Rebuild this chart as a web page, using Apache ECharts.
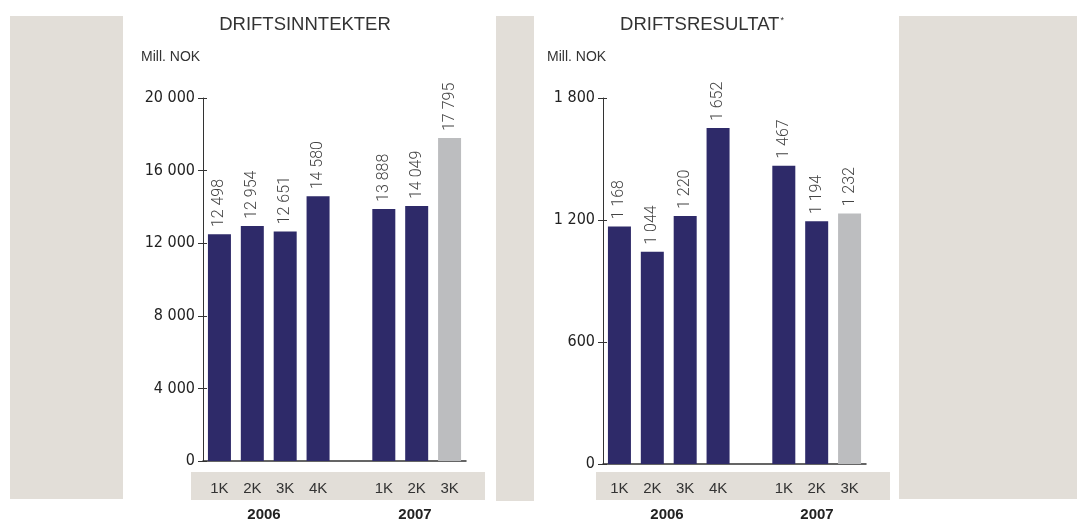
<!DOCTYPE html>
<html>
<head>
<meta charset="utf-8">
<script src="https://cdn.jsdelivr.net/npm/echarts@6/dist/echarts.min.js"></script>
<style>
  html, body { margin: 0; padding: 0; background: #fff; }
  #chart { width: 1077px; height: 523px; }
</style>
</head>
<body>
<div id="chart"></div>
<script>
// kvartaler (tom plass mellom årene)
var quarters = ['1K', '2K', '3K', '4K', '', '1K', '2K', '3K'];
var years = ['2006', '2007'];
// driftsinntekter, mill. NOK
var inntekter = [12498, 12954, 12651, 14580, '-', 13888, 14049, 17795];
// driftsresultat, mill. NOK
var resultat = [1168, 1044, 1220, 1652, '-', 1467, 1194, 1232];
var lastIndex = 7;

var navy = '#2e2a69';
var grey = '#bcbdbf';
var beige = '#e2ded8';
var numFont = "'Liberation Sans Narrow', 'DejaVu Sans Condensed', sans-serif";
var gridWidth = 263;

function fmt(v) {
    return String(v).replace(/\B(?=(\d{3})+(?!\d))/g, ' ');
}

function barData(arr) {
    var out = [];
    for (var i = 0; i < arr.length; i++) {
        out.push({
            value: arr[i],
            itemStyle: { color: i === lastIndex ? grey : navy }
        });
    }
    return out;
}

function yAxes(grid, max, step) {
    var base = {
        gridIndex: grid,
        type: 'value',
        min: 0,
        max: max,
        interval: step,
        splitLine: { show: false }
    };
    return [
        Object.assign({}, base, {
            position: 'left',
            axisLine: { show: true, lineStyle: { color: '#333', width: 1 } },
            axisTick: { show: true, length: 5, lineStyle: { color: '#333' } },
            axisLabel: {
                margin: 8, fontSize: 16, color: '#222', fontFamily: numFont,
                formatter: function (v) { return fmt(v); }
            }
        }),
        // ticks som krysser aksen: høyreakse flyttet inn til venstre kant
        Object.assign({}, base, {
            position: 'right',
            offset: -gridWidth,
            axisLine: { show: false },
            axisTick: { show: true, inside: false, length: 4, lineStyle: { color: '#333' } },
            axisLabel: { show: false }
        })
    ];
}

function xAxis(grid, margin) {
    return {
        gridIndex: grid,
        type: 'category',
        data: quarters,
        axisLine: { show: true, onZero: false, lineStyle: { color: '#333', width: 1.5 } },
        axisTick: { show: false },
        axisLabel: {
            margin: margin, fontSize: 15, color: '#333',
            fontFamily: "'Liberation Sans', sans-serif", interval: 0
        }
    };
}

function barSeries(grid, arr) {
    return {
        type: 'bar',
        xAxisIndex: grid,
        yAxisIndex: grid * 2,
        data: barData(arr),
        barWidth: 23,
        label: {
            show: true,
            position: 'top',
            rotate: 90,
            align: 'left',
            verticalAlign: 'middle',
            distance: 7,
            fontSize: 16,
            fontWeight: 300,
            fontFamily: "Roboto, sans-serif",
            color: '#444',
            formatter: function (p) { return fmt(p.value); }
        }
    };
}

var myChart = echarts.init(document.getElementById('chart'), null, { renderer: 'canvas' });

myChart.setOption({
    animation: false,
    backgroundColor: '#fff',
    grid: [
        { left: 203, right: 1077 - 203 - gridWidth, top: 98, bottom: 62 },
        { left: 603, right: 1077 - 603 - gridWidth, top: 98, bottom: 59 }
    ],
    xAxis: [xAxis(0, 20), xAxis(1, 17)],
    yAxis: yAxes(0, 20000, 4000).concat(yAxes(1, 1800, 600)),
    series: [barSeries(0, inntekter), barSeries(1, resultat)],
    graphic: [
        // bakgrunnsfelt
        { type: 'rect', z: -10, shape: { x: 10, y: 16, width: 113, height: 483 }, style: { fill: beige } },
        { type: 'rect', z: -10, shape: { x: 496, y: 16, width: 38, height: 485 }, style: { fill: beige } },
        { type: 'rect', z: -10, shape: { x: 899, y: 16, width: 178, height: 483 }, style: { fill: beige } },
        { type: 'rect', z: -10, shape: { x: 191, y: 472, width: 294, height: 28 }, style: { fill: beige } },
        { type: 'rect', z: -10, shape: { x: 596, y: 472, width: 294, height: 28 }, style: { fill: beige } },
        // titler
        { type: 'text', x: 305, y: 25, style: { text: 'DRIFTSINNTEKTER', align: 'center', verticalAlign: 'middle', fontSize: 18.5, fill: '#333', fontFamily: "'Liberation Sans', sans-serif" } },
        { type: 'text', x: 702, y: 25, style: {
            text: 'DRIFTSRESULTAT{s|*}', align: 'center', verticalAlign: 'middle', fontSize: 18.5, fill: '#333',
            fontFamily: "'Liberation Sans', sans-serif",
            rich: { s: { fontSize: 9, fill: '#333', padding: [0, 0, 9, 1] } }
        } },
        { type: 'text', x: 141, y: 57, style: { text: 'Mill. NOK', verticalAlign: 'middle', fontSize: 14, fill: '#333', fontFamily: "'Liberation Sans', sans-serif" } },
        { type: 'text', x: 547, y: 57, style: { text: 'Mill. NOK', verticalAlign: 'middle', fontSize: 14, fill: '#333', fontFamily: "'Liberation Sans', sans-serif" } },
        // årstall
        { type: 'text', x: 264, y: 515, style: { text: years[0], align: 'center', verticalAlign: 'middle', fontSize: 15, fontWeight: 'bold', fill: '#222', fontFamily: "'Liberation Sans', sans-serif" } },
        { type: 'text', x: 415, y: 515, style: { text: years[1], align: 'center', verticalAlign: 'middle', fontSize: 15, fontWeight: 'bold', fill: '#222', fontFamily: "'Liberation Sans', sans-serif" } },
        { type: 'text', x: 667, y: 515, style: { text: years[0], align: 'center', verticalAlign: 'middle', fontSize: 15, fontWeight: 'bold', fill: '#222', fontFamily: "'Liberation Sans', sans-serif" } },
        { type: 'text', x: 817, y: 515, style: { text: years[1], align: 'center', verticalAlign: 'middle', fontSize: 15, fontWeight: 'bold', fill: '#222', fontFamily: "'Liberation Sans', sans-serif" } }
    ]
});

window.addEventListener('resize', function () {
    myChart.resize();
});
</script>
</body>
</html>
